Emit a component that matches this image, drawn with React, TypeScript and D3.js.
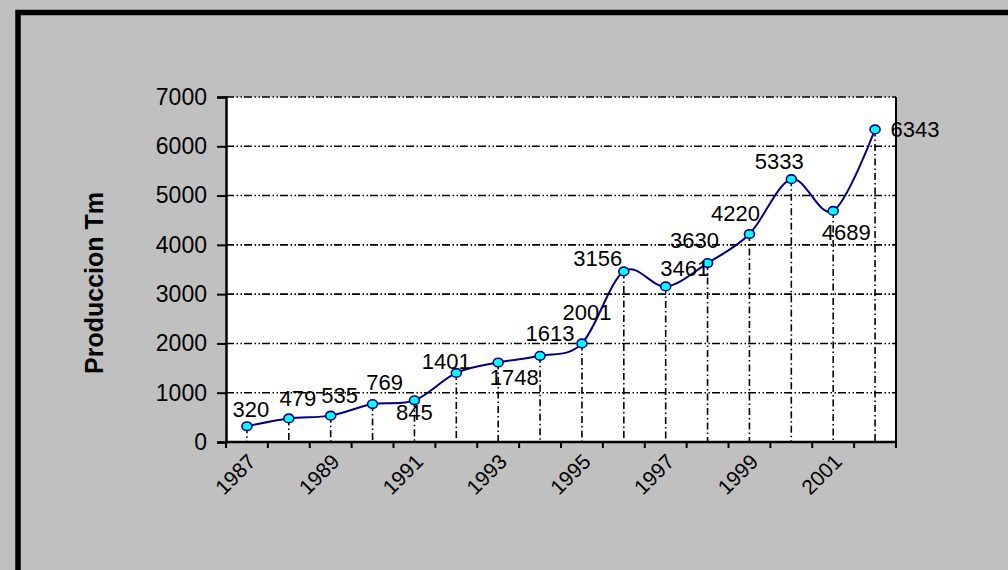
import { useEffect, useRef } from "react";
import * as d3 from "d3";

const years = [1987, 1988, 1989, 1990, 1991, 1992, 1993, 1994, 1995, 1996, 1997, 1998, 1999, 2000, 2001, 2002];
const production = [320, 479, 535, 769, 845, 1401, 1613, 1748, 2001, 3461, 3156, 3630, 4220, 5333, 4689, 6343];
// labels as they sit on the chart (some are swapped against their point)
const pointLabels = ["320", "479", "535", "769", "845", "1401", "1748", "1613", "2001", "3156", "3461", "3630", "4220", "5333", "4689", "6343"];
const yTicks = [0, 1000, 2000, 3000, 4000, 5000, 6000, 7000];
const xTickLabels = ["1987", "1989", "1991", "1993", "1995", "1997", "1999", "2001"];

export default function App() {
  const svgRef = useRef<SVGSVGElement>(null);

  useEffect(() => {
    if (!svgRef.current) return;
    const W = 1008, H = 570;
    const margin = { top: 97, right: 112, bottom: 128, left: 226 };
    const width = W - margin.left - margin.right;
    const height = H - margin.top - margin.bottom;
    const font = "Arial, 'Liberation Sans', sans-serif";

    const svg = d3.select(svgRef.current);
    svg.selectAll("*").remove();

    // background + frame
    svg.append("rect").attr("width", W).attr("height", H).attr("fill", "#c0c0c0");
    svg.append("rect")
      .attr("x", 18).attr("y", 12.5)
      .attr("width", W + 40).attr("height", H + 40)
      .attr("fill", "none").attr("stroke", "#000").attr("stroke-width", 5.5);

    const g = svg.append("g").attr("transform", `translate(${margin.left},${margin.top})`);

    const x = d3.scaleBand<number>().domain(years).range([0, width]);
    const y = d3.scaleLinear().domain([0, 7000]).range([height, 0]);
    const cx = (yr: number) => (x(yr) || 0) + x.bandwidth() / 2;

    g.append("rect").attr("width", width).attr("height", height).attr("fill", "#fff");

    // horizontal grid lines, dash-dot-dot
    g.selectAll("line.hgrid")
      .data(yTicks.filter(t => t > 0))
      .enter()
      .append("line")
      .attr("x1", 0).attr("x2", width)
      .attr("y1", d => y(d)).attr("y2", d => y(d))
      .attr("stroke", "#000").attr("stroke-width", 1.6)
      .attr("stroke-dasharray", "8,2.5,1.5,2.5,1.5,2");

    // drop lines
    g.selectAll("line.drop")
      .data(years)
      .enter()
      .append("line")
      .attr("x1", d => cx(d)).attr("x2", d => cx(d))
      .attr("y1", (_, i) => y(production[i])).attr("y2", height)
      .attr("stroke", "#000").attr("stroke-width", 1.6)
      .attr("stroke-dasharray", "7,3,1.5,3");

    // right border of plot
    g.append("line").attr("x1", width).attr("x2", width).attr("y1", 0).attr("y2", height)
      .attr("stroke", "#000").attr("stroke-width", 2);

    // y axis
    const gy = g.append("g").call(d3.axisLeft(y).tickValues(yTicks).tickSize(9).tickPadding(10).tickFormat(d3.format("d")));
    gy.select(".domain").attr("stroke", "#000").attr("stroke-width", 2.5);
    gy.selectAll("line").attr("stroke", "#000").attr("stroke-width", 2);
    gy.selectAll("text").attr("font-family", font).attr("font-size", 23).attr("fill", "#000");

    // x axis: ticks at category boundaries
    const boundaries = years.map(yr => x(yr) || 0).concat([width]);
    g.append("line").attr("x1", 0).attr("x2", width).attr("y1", height).attr("y2", height)
      .attr("stroke", "#000").attr("stroke-width", 2.5);
    g.selectAll("line.xtick")
      .data(boundaries)
      .enter()
      .append("line")
      .attr("x1", d => d).attr("x2", d => d)
      .attr("y1", height).attr("y2", height + 6)
      .attr("stroke", "#000").attr("stroke-width", 2);

    g.selectAll("text.xlab")
      .data(xTickLabels)
      .enter()
      .append("text")
      .attr("transform", d => `translate(${cx(+d) + 10},${height + 21}) rotate(-45)`)
      .attr("text-anchor", "end")
      .attr("font-family", font).attr("font-size", 21).attr("fill", "#000")
      .text(d => d);

    // y axis title
    g.append("text")
      .attr("transform", "rotate(-90)")
      .attr("x", -(283 - margin.top)).attr("y", 103 - margin.left)
      .attr("text-anchor", "middle")
      .attr("font-family", font).attr("font-size", 25).attr("font-weight", "bold").attr("fill", "#000")
      .text("Produccion Tm");

    // line
    const line = d3.line<number>()
      .x((_, i) => cx(years[i]))
      .y(d => y(d))
      .curve(d3.curveCardinal.tension(0));
    g.append("path")
      .attr("d", line(production))
      .attr("fill", "none").attr("stroke", "#000080").attr("stroke-width", 2);

    g.selectAll("ellipse")
      .data(production)
      .enter()
      .append("ellipse")
      .attr("cx", (_, i) => cx(years[i]))
      .attr("cy", d => y(d))
      .attr("rx", 5).attr("ry", 4.3)
      .attr("fill", "#00ffff").attr("stroke", "#000080").attr("stroke-width", 1.6);

    // label offsets from each point [dx, dy]
    const offsets: [number, number][] = [
      [4, -17], [9, -20], [9, -20], [12, -22], [0, 12], [-10, -12], [16, 15], [10, -23],
      [5, -31], [-26, -13], [19, -18], [-13, -23], [-14, -21], [-12, -18], [13, 21], [40, 0],
    ];
    g.selectAll("text.plabel")
      .data(pointLabels)
      .enter()
      .append("text")
      .attr("x", (_, i) => cx(years[i]) + offsets[i][0])
      .attr("y", (_, i) => y(production[i]) + offsets[i][1])
      .attr("dy", "0.35em")
      .attr("text-anchor", "middle")
      .attr("font-family", font).attr("font-size", 22).attr("fill", "#000")
      .text(d => d);
  }, []);

  return (
    <svg ref={svgRef} width={1008} height={570} style={{ position: "absolute", left: 0, top: 0 }} />
  );
}
